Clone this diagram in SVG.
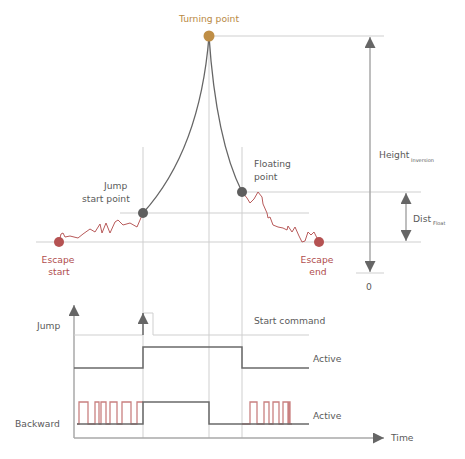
<svg xmlns="http://www.w3.org/2000/svg" width="465" height="459" viewBox="0 0 465 459">
<defs>
<style>
text{font-family:"DejaVu Sans","Liberation Sans",sans-serif;font-size:9.2px;fill:#5a5a5a}
.red{fill:#b04e4e}
.gold{fill:#b98a44}
.grid{stroke:#cfcfcf;stroke-width:1;fill:none}
.axis{stroke:#a8a8a8;stroke-width:1.5;fill:none}
.sig{stroke:#6a6a6a;stroke-width:1.5;fill:none}
.wig{stroke:#b85a5a;stroke-width:1;fill:none;stroke-linejoin:round}
.pulse{stroke:#c06a6a;stroke-width:1.3;fill:none;opacity:0.85}
.traj{stroke:#666;stroke-width:1.3;fill:none}
.sub{font-size:5px}
</style>
<marker id="ah" markerUnits="userSpaceOnUse" markerWidth="11" markerHeight="11" refX="10" refY="5" orient="auto-start-reverse" viewBox="0 0 10 10">
<path d="M0,0 L10,5 L0,10 z" fill="#666"/>
</marker>
</defs>
<rect width="465" height="459" fill="#fff"/>
<g id="grid">
<line class="grid" x1="209" y1="36" x2="384" y2="36"/>
<line class="grid" x1="209" y1="36" x2="209" y2="438"/>
<line class="grid" x1="143" y1="147" x2="143" y2="438"/>
<line class="grid" x1="242" y1="147" x2="242" y2="438"/>
<line class="grid" x1="120" y1="213" x2="309" y2="213"/>
<line class="grid" x1="242" y1="192" x2="421" y2="192"/>
<line class="grid" x1="36" y1="242" x2="421" y2="242"/>
<line class="grid" x1="356" y1="273" x2="384" y2="273"/>
</g>
<g id="connectors">
<path class="traj" d="M143,213 Q200,150 209,36"/>
<path class="traj" d="M209,36 Q216,140 242,192"/>
<polyline class="wig" points="59,242 61,234 63,233 65,237 70,236 78,238 83,234 90,229 95,232 100,224 102,233 106,223 110,233 115,222 118,220 123,225 130,223 137,227 140,220 143,213"/>
<polyline class="wig" points="242,192 247,198 250,203 254,199 258,192 262,197 263,204 267,213 268,218 270,217 273,225 278,227 283,228 287,230 288,226 292,232 295,227 299,236 302,242 305,241 308,232 311,235 314,232 316,236 319,242"/>
<line class="axis" x1="370" y1="37" x2="370" y2="272" marker-start="url(#ah)" marker-end="url(#ah)"/>
<line class="axis" x1="406" y1="193" x2="406" y2="241" marker-start="url(#ah)" marker-end="url(#ah)"/>
<line class="axis" x1="74" y1="438" x2="74" y2="305" marker-end="url(#ah)"/>
<line class="axis" x1="74" y1="438" x2="384" y2="438" marker-end="url(#ah)"/>
<polyline class="grid" points="74,335 143,335"/>
<polyline class="grid" points="143,313 153,313 153,335 309,335"/>
<line class="sig" x1="143" y1="335" x2="143" y2="313" marker-end="url(#ah)"/>
<polyline class="sig" points="74,368 143,368 143,347 242,347 242,368 309,368"/>
<polyline class="pulse" points="77,424 79,424 79,402 88,402 88,424 95,424 95,402 99,402 99,424 101,424 101,402 106,402 106,424 110,424 110,402 117,402 117,424 122,424 122,402 131,402 131,424 137,424 137,402 143,402"/>
<polyline class="pulse" points="242,424 250,424 250,402 257,402 257,424 264,424 264,402 269,402 269,424 273,424 273,402 279,402 279,424 283,424 283,402 288,402 288,424 289,424 289,402 290,402 290,424 292,424"/>
<polyline class="sig" points="77,424 143,424 143,402 209,402 209,424 309,424"/>
</g>
<g id="turning-point">
<circle cx="209" cy="36" r="5.5" fill="#bf8e46"/>
<text class="gold" x="209" y="22" text-anchor="middle">Turning point</text>
</g>
<g id="jump-start-point">
<circle cx="143" cy="213" r="5" fill="#5e5e5e"/>
<text x="104" y="189">Jump</text>
<text x="82" y="202">start point</text>
</g>
<g id="floating-point">
<circle cx="242" cy="192" r="5" fill="#5e5e5e"/>
<text x="254" y="167">Floating</text>
<text x="254" y="180">point</text>
</g>
<g id="escape-start">
<circle cx="59" cy="242" r="5" fill="#b55252"/>
<text class="red" x="58" y="263" text-anchor="middle">Escape</text>
<text class="red" x="59" y="275" text-anchor="middle">start</text>
</g>
<g id="escape-end">
<circle cx="319" cy="242" r="5" fill="#b55252"/>
<text class="red" x="317" y="263" text-anchor="middle">Escape</text>
<text class="red" x="318" y="275" text-anchor="middle">end</text>
</g>
<g id="labels">
<text x="379" y="158">Height</text>
<text class="sub" x="411" y="162">Inversion</text>
<text x="413" y="222">Dist</text>
<text class="sub" x="433" y="225">Float</text>
<text x="369" y="290" text-anchor="middle">0</text>
<text x="37" y="329">Jump</text>
<text x="15" y="427">Backward</text>
<text x="254" y="324">Start command</text>
<text x="313" y="362">Active</text>
<text x="313" y="419">Active</text>
<text x="391" y="441">Time</text>
</g>
</svg>
